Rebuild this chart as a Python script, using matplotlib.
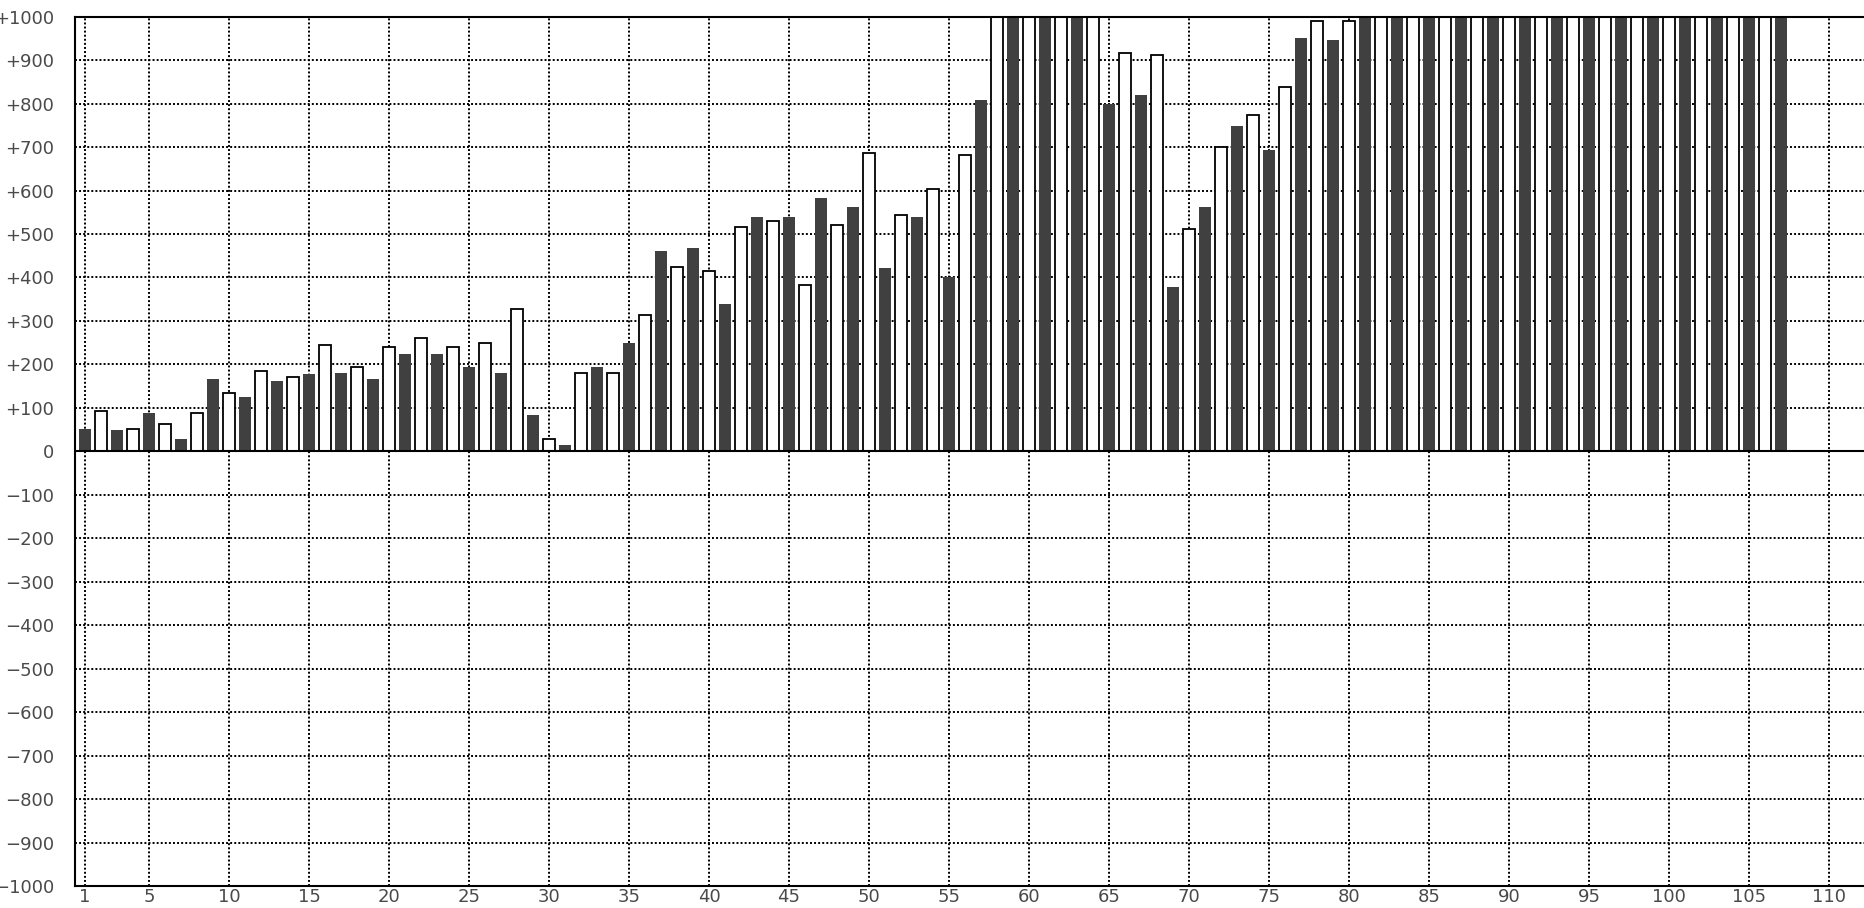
import matplotlib
matplotlib.use("Agg")
import matplotlib.pyplot as plt

# ---- data ----
positions = list(range(1, 108))
values = [
    52, 92, 48, 51, 89, 64, 29, 88, 167, 134,
    126, 184, 163, 170, 177, 244, 181, 193, 167, 240,
    223, 261, 223, 240, 195, 249, 181, 327, 84, 28,
    15, 180, 195, 180, 250, 313, 462, 424, 467, 415,
    338, 516, 540, 530, 540, 382, 582, 520, 563, 686,
    421, 544, 540, 603, 402, 682, 808, 1000, 1000, 1000,
    1000, 1000, 1000, 1000, 798, 917, 821, 912, 379, 511,
    563, 700, 748, 774, 694, 838, 950, 990, 946, 990,
    1000, 1000, 1000, 1000, 1000, 1000, 1000, 1000, 1000, 1000,
    1000, 1000, 1000, 1000, 1000, 1000, 1000, 1000, 1000, 1000,
    1000, 1000, 1000, 1000, 1000, 1000, 1000,
]
x_ticks = [1, 5, 10, 15, 20, 25, 30, 35, 40, 45, 50, 55, 60, 65, 70, 75,
           80, 85, 90, 95, 100, 105, 110]
y_ticks = list(range(-1000, 1001, 100))
y_tick_labels = [("+%d" % v if v > 0 else ("0" if v == 0 else "\u2212%d" % -v))
                 for v in y_ticks]

DARK = "#404040"
TXT = "#4a4a4a"

fig = plt.figure(figsize=(18.64, 9.08), dpi=100)
ax = fig.add_axes([75 / 1864, 1 - 886 / 908, 1 - 75 / 1864, (886 - 16.7) / 908])

dark_x = [p for p in positions if p % 2 == 1]
dark_v = [v for p, v in zip(positions, values) if p % 2 == 1]
white_x = [p for p in positions if p % 2 == 0]
white_v = [v for p, v in zip(positions, values) if p % 2 == 0]

ax.bar(dark_x, dark_v, width=0.75, color=DARK, edgecolor="none", zorder=2)
ax.bar(white_x, white_v, width=0.72, color="white", edgecolor="black",
       linewidth=1.3, zorder=2)

ax.axhline(0, color="black", linewidth=1.5, zorder=3)

ax.set_xlim(0.375, 112.19)
ax.set_ylim(-1000, 1000)
ax.set_xticks(x_ticks)
ax.set_xticklabels([str(t) for t in x_ticks])
ax.set_yticks(y_ticks)
ax.set_yticklabels(y_tick_labels)

ax.tick_params(axis="both", length=0, labelsize=13, labelcolor=TXT)
ax.tick_params(axis="y", pad=15)
ax.tick_params(axis="x", pad=1.5)

ax.set_axisbelow(True)
ax.grid(True, color="black", linewidth=1.4, linestyle=(0, (1, 1.1)))

for side in ["left", "top", "bottom"]:
    ax.spines[side].set_linewidth(1.5)
    ax.spines[side].set_color("black")
ax.spines["right"].set_visible(False)

fig.savefig("out.png", dpi=100)
